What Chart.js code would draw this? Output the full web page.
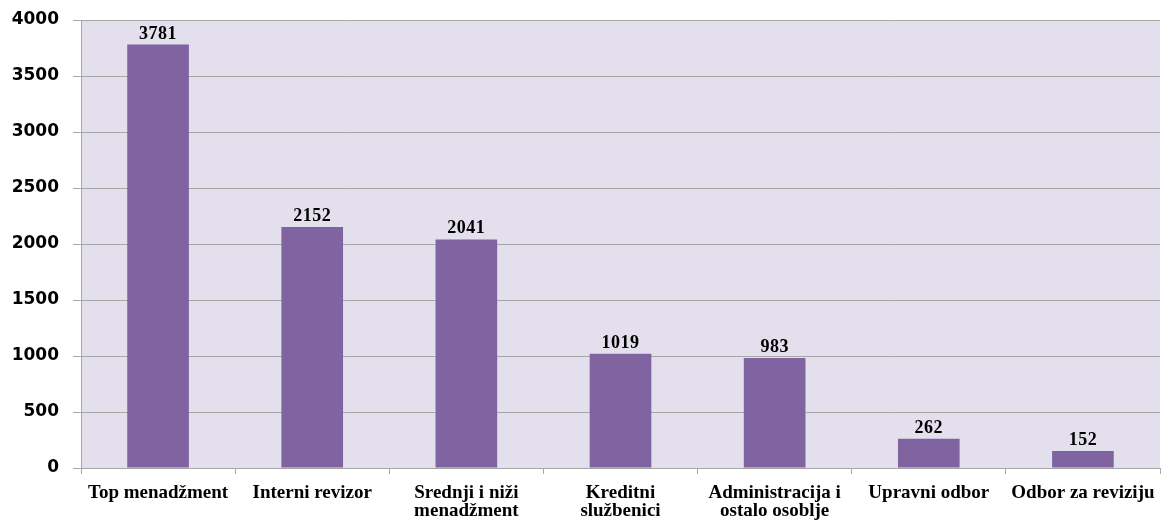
<!DOCTYPE html>
<html>
<head>
<meta charset="utf-8">
<script src="https://cdn.jsdelivr.net/npm/chart.js@4.4.0/dist/chart.umd.min.js"></script>
<style>
html,body{margin:0;padding:0;background:#fff;}
#wrap{width:1161px;height:521px;}
</style>
</head>
<body>
<div id="wrap"><canvas id="c" width="1161" height="521"></canvas></div>
<script>
const categories = [
  "Top menadžment",
  "Interni revizor",
  ["Srednji i niži", "menadžment"],
  ["Kreditni", "službenici"],
  ["Administracija i", "ostalo osoblje"],
  "Upravni odbor",
  "Odbor za reviziju"
];
const values = [3781, 2152, 2041, 1019, 983, 262, 152];
const yTicks = [0, 500, 1000, 1500, 2000, 2500, 3000, 3500, 4000];

const bgPlugin = {
  id: 'plotBg',
  beforeDraw(chart) {
    const {ctx, chartArea: a} = chart;
    ctx.save();
    ctx.fillStyle = '#E4DFEC';
    ctx.fillRect(a.left, a.top, a.right - a.left, a.bottom - a.top);
    ctx.restore();
  }
};

const labelPlugin = {
  id: 'valLabels',
  afterDatasetsDraw(chart) {
    const {ctx} = chart;
    const meta = chart.getDatasetMeta(0);
    ctx.save();
    ctx.font = 'bold 18px "Liberation Serif", "Times New Roman", serif';
    if ('letterSpacing' in ctx) ctx.letterSpacing = '0.5px';
    ctx.fillStyle = '#000';
    ctx.textAlign = 'center';
    ctx.textBaseline = 'alphabetic';
    meta.data.forEach((bar, i) => {
      ctx.fillText(String(chart.data.datasets[0].data[i]), bar.x, bar.y - 6);
    });
    ctx.restore();
  }
};

new Chart(document.getElementById('c'), {
  type: 'bar',
  data: {
    labels: categories,
    datasets: [{
      data: values,
      backgroundColor: '#8064A2',
      borderWidth: 0,
      barPercentage: 0.4,
      categoryPercentage: 1.0
    }]
  },
  options: {
    responsive: false,
    animation: false,
    devicePixelRatio: 1,
    layout: { padding: { top: 20, right: 1, left: 0, bottom: 0 } },
    plugins: { legend: { display: false }, tooltip: { enabled: false } },
    scales: {
      y: {
        min: 0, max: 4000,
        afterBuildTicks(axis) { axis.ticks = yTicks.map(v => ({value: v})); },
        afterFit(axis) { axis.width = 81; axis.paddingTop = 0; axis.paddingBottom = 0; },
        grid: { color: '#A6A6A6', lineWidth: 1, tickLength: 8, drawTicks: true },
        border: { display: true, color: '#A6A6A6', width: 1 },
        ticks: {
          padding: 14,
          color: '#000',
          callback: v => String(v),
          font: { family: '"DejaVu Sans", Verdana, sans-serif', size: 17, weight: 'bold' }
        }
      },
      x: {
        afterFit(axis) { axis.height = 53; axis.paddingLeft = 0; axis.paddingRight = 0; },
        grid: { offset: true, drawOnChartArea: false, color: '#A6A6A6', tickLength: 6 },
        border: { display: true, color: '#A6A6A6', width: 1 },
        ticks: {
          padding: 10,
          maxRotation: 0,
          autoSkip: false,
          color: '#000',
          font: { family: '"Liberation Serif", "Times New Roman", serif', size: 19, weight: 'bold', lineHeight: 0.95 }
        }
      }
    }
  },
  plugins: [bgPlugin, labelPlugin]
});
</script>
</body>
</html>
